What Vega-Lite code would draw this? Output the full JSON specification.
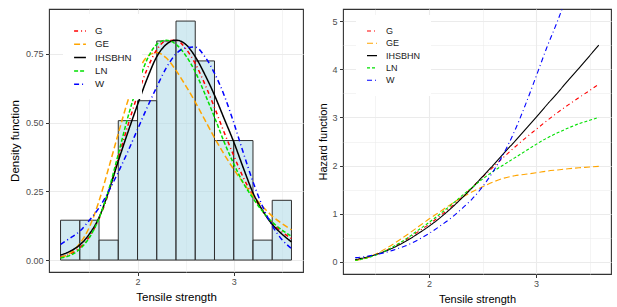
{
  "$schema": "https://vega.github.io/schema/vega-lite/v6.json",
  "background": "white",
  "padding": {"left": 9, "top": 8, "right": 0, "bottom": 0},
  "spacing": 13,
  "config": {
    "font": "Liberation Sans",
    "view": {"stroke": "#333333", "strokeWidth": 1.1},
    "axis": {
      "domain": false,
      "gridColor": "#EBEBEB",
      "tickColor": "#333333",
      "tickSize": 3.5,
      "labelColor": "#4D4D4D",
      "labelFontSize": 9,
      "labelPadding": 1.5,
      "titleColor": "#000000",
      "titleFontWeight": "normal",
      "titleFontSize": 11.5
    },
    "legend": {
      "fillColor": "white",
      "padding": 10,
      "symbolType": "stroke",
      "labelColor": "#1A1A1A",
      "rowPadding": 1.3,
      "symbolStrokeWidth": 1.5
    }
  },
  "datasets": {
    "hist": [
      {"start": 1.2, "end": 1.4, "density": 0.1449},
      {"start": 1.4, "end": 1.6, "density": 0.1449},
      {"start": 1.6, "end": 1.8, "density": 0.0725},
      {"start": 1.8, "end": 2.0, "density": 0.5072},
      {"start": 2.0, "end": 2.2, "density": 0.5797},
      {"start": 2.2, "end": 2.4, "density": 0.7971},
      {"start": 2.4, "end": 2.6, "density": 0.8696},
      {"start": 2.6, "end": 2.8, "density": 0.7246},
      {"start": 2.8, "end": 3.0, "density": 0.4348},
      {"start": 3.0, "end": 3.2, "density": 0.4348},
      {"start": 3.2, "end": 3.4, "density": 0.0725},
      {"start": 3.4, "end": 3.6, "density": 0.2174}
    ],
    "dens": [
      {"model": "G", "x": 1.2, "y": 0.011}, {"model": "G", "x": 1.3, "y": 0.022}, {"model": "G", "x": 1.4, "y": 0.045}, {"model": "G", "x": 1.5, "y": 0.085}, {"model": "G", "x": 1.6, "y": 0.15}, {"model": "G", "x": 1.7, "y": 0.245}, {"model": "G", "x": 1.8, "y": 0.37}, {"model": "G", "x": 1.9, "y": 0.49}, {"model": "G", "x": 2.0, "y": 0.6}, {"model": "G", "x": 2.1, "y": 0.695}, {"model": "G", "x": 2.2, "y": 0.765}, {"model": "G", "x": 2.3, "y": 0.798}, {"model": "G", "x": 2.4, "y": 0.8}, {"model": "G", "x": 2.5, "y": 0.77}, {"model": "G", "x": 2.6, "y": 0.715}, {"model": "G", "x": 2.7, "y": 0.64}, {"model": "G", "x": 2.8, "y": 0.555}, {"model": "G", "x": 2.9, "y": 0.465}, {"model": "G", "x": 3.0, "y": 0.38}, {"model": "G", "x": 3.1, "y": 0.3}, {"model": "G", "x": 3.2, "y": 0.235}, {"model": "G", "x": 3.3, "y": 0.18}, {"model": "G", "x": 3.4, "y": 0.135}, {"model": "G", "x": 3.5, "y": 0.103}, {"model": "G", "x": 3.6, "y": 0.078},
      {"model": "GE", "x": 1.2, "y": 0.009}, {"model": "GE", "x": 1.3, "y": 0.025}, {"model": "GE", "x": 1.4, "y": 0.06}, {"model": "GE", "x": 1.5, "y": 0.12}, {"model": "GE", "x": 1.6, "y": 0.215}, {"model": "GE", "x": 1.7, "y": 0.335}, {"model": "GE", "x": 1.8, "y": 0.46}, {"model": "GE", "x": 1.9, "y": 0.58}, {"model": "GE", "x": 2.0, "y": 0.68}, {"model": "GE", "x": 2.1, "y": 0.74}, {"model": "GE", "x": 2.2, "y": 0.755}, {"model": "GE", "x": 2.3, "y": 0.735}, {"model": "GE", "x": 2.4, "y": 0.69}, {"model": "GE", "x": 2.5, "y": 0.635}, {"model": "GE", "x": 2.6, "y": 0.575}, {"model": "GE", "x": 2.7, "y": 0.51}, {"model": "GE", "x": 2.8, "y": 0.445}, {"model": "GE", "x": 2.9, "y": 0.385}, {"model": "GE", "x": 3.0, "y": 0.33}, {"model": "GE", "x": 3.1, "y": 0.28}, {"model": "GE", "x": 3.2, "y": 0.235}, {"model": "GE", "x": 3.3, "y": 0.195}, {"model": "GE", "x": 3.4, "y": 0.16}, {"model": "GE", "x": 3.5, "y": 0.133}, {"model": "GE", "x": 3.6, "y": 0.11},
      {"model": "IHSBHN", "x": 1.2, "y": 0.018}, {"model": "IHSBHN", "x": 1.3, "y": 0.032}, {"model": "IHSBHN", "x": 1.4, "y": 0.055}, {"model": "IHSBHN", "x": 1.5, "y": 0.095}, {"model": "IHSBHN", "x": 1.6, "y": 0.155}, {"model": "IHSBHN", "x": 1.7, "y": 0.25}, {"model": "IHSBHN", "x": 1.8, "y": 0.36}, {"model": "IHSBHN", "x": 1.9, "y": 0.465}, {"model": "IHSBHN", "x": 2.0, "y": 0.565}, {"model": "IHSBHN", "x": 2.1, "y": 0.66}, {"model": "IHSBHN", "x": 2.2, "y": 0.74}, {"model": "IHSBHN", "x": 2.3, "y": 0.785}, {"model": "IHSBHN", "x": 2.4, "y": 0.8}, {"model": "IHSBHN", "x": 2.5, "y": 0.785}, {"model": "IHSBHN", "x": 2.6, "y": 0.74}, {"model": "IHSBHN", "x": 2.7, "y": 0.675}, {"model": "IHSBHN", "x": 2.8, "y": 0.6}, {"model": "IHSBHN", "x": 2.9, "y": 0.515}, {"model": "IHSBHN", "x": 3.0, "y": 0.43}, {"model": "IHSBHN", "x": 3.1, "y": 0.335}, {"model": "IHSBHN", "x": 3.2, "y": 0.245}, {"model": "IHSBHN", "x": 3.3, "y": 0.18}, {"model": "IHSBHN", "x": 3.4, "y": 0.13}, {"model": "IHSBHN", "x": 3.5, "y": 0.095}, {"model": "IHSBHN", "x": 3.6, "y": 0.066},
      {"model": "LN", "x": 1.2, "y": 0.007}, {"model": "LN", "x": 1.3, "y": 0.017}, {"model": "LN", "x": 1.4, "y": 0.04}, {"model": "LN", "x": 1.5, "y": 0.082}, {"model": "LN", "x": 1.6, "y": 0.152}, {"model": "LN", "x": 1.7, "y": 0.255}, {"model": "LN", "x": 1.8, "y": 0.385}, {"model": "LN", "x": 1.9, "y": 0.52}, {"model": "LN", "x": 2.0, "y": 0.635}, {"model": "LN", "x": 2.1, "y": 0.73}, {"model": "LN", "x": 2.2, "y": 0.785}, {"model": "LN", "x": 2.3, "y": 0.8}, {"model": "LN", "x": 2.4, "y": 0.785}, {"model": "LN", "x": 2.5, "y": 0.745}, {"model": "LN", "x": 2.6, "y": 0.685}, {"model": "LN", "x": 2.7, "y": 0.605}, {"model": "LN", "x": 2.8, "y": 0.52}, {"model": "LN", "x": 2.9, "y": 0.43}, {"model": "LN", "x": 3.0, "y": 0.35}, {"model": "LN", "x": 3.1, "y": 0.28}, {"model": "LN", "x": 3.2, "y": 0.225}, {"model": "LN", "x": 3.3, "y": 0.177}, {"model": "LN", "x": 3.4, "y": 0.138}, {"model": "LN", "x": 3.5, "y": 0.11}, {"model": "LN", "x": 3.6, "y": 0.086},
      {"model": "W", "x": 1.2, "y": 0.057}, {"model": "W", "x": 1.3, "y": 0.08}, {"model": "W", "x": 1.4, "y": 0.105}, {"model": "W", "x": 1.5, "y": 0.145}, {"model": "W", "x": 1.6, "y": 0.19}, {"model": "W", "x": 1.7, "y": 0.25}, {"model": "W", "x": 1.8, "y": 0.32}, {"model": "W", "x": 1.9, "y": 0.395}, {"model": "W", "x": 2.0, "y": 0.475}, {"model": "W", "x": 2.1, "y": 0.555}, {"model": "W", "x": 2.2, "y": 0.63}, {"model": "W", "x": 2.3, "y": 0.7}, {"model": "W", "x": 2.4, "y": 0.75}, {"model": "W", "x": 2.5, "y": 0.772}, {"model": "W", "x": 2.6, "y": 0.775}, {"model": "W", "x": 2.7, "y": 0.74}, {"model": "W", "x": 2.8, "y": 0.68}, {"model": "W", "x": 2.9, "y": 0.6}, {"model": "W", "x": 3.0, "y": 0.5}, {"model": "W", "x": 3.1, "y": 0.39}, {"model": "W", "x": 3.2, "y": 0.285}, {"model": "W", "x": 3.3, "y": 0.195}, {"model": "W", "x": 3.4, "y": 0.125}, {"model": "W", "x": 3.5, "y": 0.075}, {"model": "W", "x": 3.6, "y": 0.042}
    ],
    "haz": [
      {"model": "G", "x": 1.312, "h": 0.04}, {"model": "G", "x": 1.4, "h": 0.08}, {"model": "G", "x": 1.5, "h": 0.15}, {"model": "G", "x": 1.6, "h": 0.24}, {"model": "G", "x": 1.7, "h": 0.35}, {"model": "G", "x": 1.8, "h": 0.48}, {"model": "G", "x": 1.9, "h": 0.63}, {"model": "G", "x": 2.0, "h": 0.78}, {"model": "G", "x": 2.1, "h": 0.95}, {"model": "G", "x": 2.2, "h": 1.13}, {"model": "G", "x": 2.3, "h": 1.33}, {"model": "G", "x": 2.4, "h": 1.54}, {"model": "G", "x": 2.5, "h": 1.76}, {"model": "G", "x": 2.6, "h": 1.97}, {"model": "G", "x": 2.7, "h": 2.18}, {"model": "G", "x": 2.8, "h": 2.38}, {"model": "G", "x": 2.9, "h": 2.57}, {"model": "G", "x": 3.0, "h": 2.75}, {"model": "G", "x": 3.1, "h": 2.93}, {"model": "G", "x": 3.2, "h": 3.1}, {"model": "G", "x": 3.3, "h": 3.26}, {"model": "G", "x": 3.4, "h": 3.41}, {"model": "G", "x": 3.5, "h": 3.56}, {"model": "G", "x": 3.585, "h": 3.69},
      {"model": "GE", "x": 1.312, "h": 0.03}, {"model": "GE", "x": 1.4, "h": 0.07}, {"model": "GE", "x": 1.5, "h": 0.16}, {"model": "GE", "x": 1.6, "h": 0.28}, {"model": "GE", "x": 1.7, "h": 0.42}, {"model": "GE", "x": 1.8, "h": 0.57}, {"model": "GE", "x": 1.9, "h": 0.73}, {"model": "GE", "x": 2.0, "h": 0.89}, {"model": "GE", "x": 2.1, "h": 1.04}, {"model": "GE", "x": 2.2, "h": 1.19}, {"model": "GE", "x": 2.3, "h": 1.33}, {"model": "GE", "x": 2.4, "h": 1.45}, {"model": "GE", "x": 2.5, "h": 1.56}, {"model": "GE", "x": 2.6, "h": 1.66}, {"model": "GE", "x": 2.7, "h": 1.74}, {"model": "GE", "x": 2.8, "h": 1.79}, {"model": "GE", "x": 2.9, "h": 1.82}, {"model": "GE", "x": 3.0, "h": 1.85}, {"model": "GE", "x": 3.1, "h": 1.885}, {"model": "GE", "x": 3.2, "h": 1.91}, {"model": "GE", "x": 3.3, "h": 1.935}, {"model": "GE", "x": 3.4, "h": 1.955}, {"model": "GE", "x": 3.5, "h": 1.97}, {"model": "GE", "x": 3.585, "h": 1.985},
      {"model": "IHSBHN", "x": 1.312, "h": 0.05}, {"model": "IHSBHN", "x": 1.4, "h": 0.09}, {"model": "IHSBHN", "x": 1.5, "h": 0.15}, {"model": "IHSBHN", "x": 1.6, "h": 0.23}, {"model": "IHSBHN", "x": 1.7, "h": 0.33}, {"model": "IHSBHN", "x": 1.8, "h": 0.45}, {"model": "IHSBHN", "x": 1.9, "h": 0.59}, {"model": "IHSBHN", "x": 2.0, "h": 0.74}, {"model": "IHSBHN", "x": 2.1, "h": 0.91}, {"model": "IHSBHN", "x": 2.2, "h": 1.1}, {"model": "IHSBHN", "x": 2.3, "h": 1.31}, {"model": "IHSBHN", "x": 2.4, "h": 1.53}, {"model": "IHSBHN", "x": 2.5, "h": 1.77}, {"model": "IHSBHN", "x": 2.6, "h": 2.01}, {"model": "IHSBHN", "x": 2.7, "h": 2.26}, {"model": "IHSBHN", "x": 2.8, "h": 2.5}, {"model": "IHSBHN", "x": 2.9, "h": 2.75}, {"model": "IHSBHN", "x": 3.0, "h": 3.0}, {"model": "IHSBHN", "x": 3.1, "h": 3.26}, {"model": "IHSBHN", "x": 3.2, "h": 3.51}, {"model": "IHSBHN", "x": 3.3, "h": 3.77}, {"model": "IHSBHN", "x": 3.4, "h": 4.02}, {"model": "IHSBHN", "x": 3.5, "h": 4.28}, {"model": "IHSBHN", "x": 3.585, "h": 4.5},
      {"model": "LN", "x": 1.312, "h": 0.03}, {"model": "LN", "x": 1.4, "h": 0.07}, {"model": "LN", "x": 1.5, "h": 0.14}, {"model": "LN", "x": 1.6, "h": 0.24}, {"model": "LN", "x": 1.7, "h": 0.36}, {"model": "LN", "x": 1.8, "h": 0.5}, {"model": "LN", "x": 1.9, "h": 0.66}, {"model": "LN", "x": 2.0, "h": 0.82}, {"model": "LN", "x": 2.1, "h": 0.99}, {"model": "LN", "x": 2.2, "h": 1.17}, {"model": "LN", "x": 2.3, "h": 1.36}, {"model": "LN", "x": 2.4, "h": 1.54}, {"model": "LN", "x": 2.5, "h": 1.72}, {"model": "LN", "x": 2.6, "h": 1.88}, {"model": "LN", "x": 2.7, "h": 2.02}, {"model": "LN", "x": 2.8, "h": 2.16}, {"model": "LN", "x": 2.9, "h": 2.3}, {"model": "LN", "x": 3.0, "h": 2.44}, {"model": "LN", "x": 3.1, "h": 2.57}, {"model": "LN", "x": 3.2, "h": 2.68}, {"model": "LN", "x": 3.3, "h": 2.78}, {"model": "LN", "x": 3.4, "h": 2.87}, {"model": "LN", "x": 3.5, "h": 2.94}, {"model": "LN", "x": 3.585, "h": 3.0},
      {"model": "W", "x": 1.312, "h": 0.09}, {"model": "W", "x": 1.4, "h": 0.11}, {"model": "W", "x": 1.5, "h": 0.15}, {"model": "W", "x": 1.6, "h": 0.2}, {"model": "W", "x": 1.7, "h": 0.27}, {"model": "W", "x": 1.8, "h": 0.35}, {"model": "W", "x": 1.9, "h": 0.46}, {"model": "W", "x": 2.0, "h": 0.59}, {"model": "W", "x": 2.1, "h": 0.74}, {"model": "W", "x": 2.2, "h": 0.9}, {"model": "W", "x": 2.3, "h": 1.09}, {"model": "W", "x": 2.4, "h": 1.3}, {"model": "W", "x": 2.5, "h": 1.56}, {"model": "W", "x": 2.6, "h": 1.88}, {"model": "W", "x": 2.7, "h": 2.26}, {"model": "W", "x": 2.8, "h": 2.72}, {"model": "W", "x": 2.9, "h": 3.26}, {"model": "W", "x": 3.0, "h": 3.85}, {"model": "W", "x": 3.1, "h": 4.45}, {"model": "W", "x": 3.2, "h": 5.0}, {"model": "W", "x": 3.3, "h": 5.6}
    ]
  },
  "hconcat": [
    {
      "width": 254,
      "height": 263,
      "layer": [
        {
          "data": {"name": "hist"},
          "mark": {"type": "rect", "fill": "#ADD8E6", "fillOpacity": 0.55, "stroke": "#2E2E2E", "strokeWidth": 1},
          "encoding": {
            "x": {
              "field": "start", "type": "quantitative", "title": "Tensile strength",
              "scale": {"domain": [1.08, 3.72], "nice": false, "zero": false},
              "axis": {
                "values": [1.5, 2, 2.5, 3, 3.5],
                "labelExpr": "datum.value % 1 === 0 ? format(datum.value, 'd') : ''",
                "gridWidth": {"condition": {"test": "datum.value % 1 === 0", "value": 1.1}, "value": 0.55},
                "tickOpacity": {"condition": {"test": "datum.value % 1 === 0", "value": 1}, "value": 0},
                "titlePadding": 5
              }
            },
            "x2": {"field": "end"},
            "y": {
              "field": "density", "type": "quantitative", "title": "Density function",
              "scale": {"domain": [-0.0435, 0.9135], "nice": false, "zero": false},
              "axis": {
                "values": [0, 0.125, 0.25, 0.375, 0.5, 0.625, 0.75, 0.875],
                "labelExpr": "round(datum.value * 8) % 2 === 0 ? format(datum.value, '.2f') : ''",
                "gridWidth": {"condition": {"test": "round(datum.value * 8) % 2 === 0", "value": 1.1}, "value": 0.55},
                "tickOpacity": {"condition": {"test": "round(datum.value * 8) % 2 === 0", "value": 1}, "value": 0},
                "labelPadding": 2.5,
                "titlePadding": 4.5
              }
            },
            "y2": {"datum": 0}
          }
        },
        {
          "data": {"name": "dens"},
          "mark": {"type": "line", "interpolate": "monotone", "strokeWidth": 1.5, "clip": true},
          "encoding": {
            "x": {"field": "x", "type": "quantitative"},
            "y": {"field": "y", "type": "quantitative"},
            "color": {
              "field": "model", "type": "nominal", "title": null,
              "scale": {"domain": ["G", "GE", "IHSBHN", "LN", "W"], "range": ["#FF0000", "#FFA500", "#000000", "#00E000", "#0000FF"]},
              "legend": {"orient": "none", "legendX": 14, "legendY": 5, "symbolSize": 140, "labelFontSize": 9.7, "labelOffset": 8}
            },
            "strokeDash": {
              "field": "model", "type": "nominal", "title": null,
              "scale": {"domain": ["G", "GE", "IHSBHN", "LN", "W"], "range": [[4, 3, 1, 3], [6, 3], [1, 0], [4, 2], [5, 3, 1, 3]]},
              "legend": {"orient": "none", "legendX": 14, "legendY": 5, "symbolSize": 140, "labelFontSize": 9.7, "labelOffset": 8}
            }
          }
        }
      ]
    },
    {
      "width": 268,
      "height": 265,
      "data": {"name": "haz"},
      "mark": {"type": "line", "interpolate": "monotone", "strokeWidth": 1.1, "clip": true},
      "encoding": {
        "x": {
          "field": "x", "type": "quantitative", "title": "Tensile strength",
          "scale": {"domain": [1.198, 3.699], "nice": false, "zero": false},
          "axis": {
            "values": [1.5, 2, 2.5, 3, 3.5],
            "labelExpr": "datum.value % 1 === 0 ? format(datum.value, 'd') : ''",
            "gridWidth": {"condition": {"test": "datum.value % 1 === 0", "value": 1.1}, "value": 0.55},
            "tickOpacity": {"condition": {"test": "datum.value % 1 === 0", "value": 1}, "value": 0},
            "titlePadding": 5,
            "titleFontSize": 11
          }
        },
        "y": {
          "field": "h", "type": "quantitative", "title": "Hazard function",
          "scale": {"domain": [-0.25, 5.25], "nice": false, "zero": false},
          "axis": {
            "values": [0, 0.5, 1, 1.5, 2, 2.5, 3, 3.5, 4, 4.5, 5],
            "labelExpr": "datum.value % 1 === 0 ? format(datum.value, 'd') : ''",
            "gridWidth": {"condition": {"test": "datum.value % 1 === 0", "value": 1.1}, "value": 0.55},
            "tickOpacity": {"condition": {"test": "datum.value % 1 === 0", "value": 1}, "value": 0},
            "labelPadding": 2.5,
            "titlePadding": 3,
            "titleFontSize": 11
          }
        },
        "color": {
          "field": "model", "type": "nominal", "title": null,
          "scale": {"domain": ["G", "GE", "IHSBHN", "LN", "W"], "range": ["#FF0000", "#FFA500", "#000000", "#00E000", "#0000FF"]},
          "legend": {"orient": "none", "legendX": 13, "legendY": 6, "symbolSize": 100, "labelFontSize": 9, "labelOffset": 8, "symbolStrokeWidth": 1.1}
        },
        "strokeDash": {
          "field": "model", "type": "nominal", "title": null,
          "scale": {"domain": ["G", "GE", "IHSBHN", "LN", "W"], "range": [[4, 3, 1, 3], [6, 3], [1, 0], [3, 2], [5, 3, 1, 3]]},
          "legend": {"orient": "none", "legendX": 13, "legendY": 6, "symbolSize": 100, "labelFontSize": 9, "labelOffset": 8, "symbolStrokeWidth": 1.1}
        }
      }
    }
  ],
  "resolve": {
    "scale": {"color": "independent", "strokeDash": "independent"},
    "legend": {"color": "independent", "strokeDash": "independent"}
  }
}
